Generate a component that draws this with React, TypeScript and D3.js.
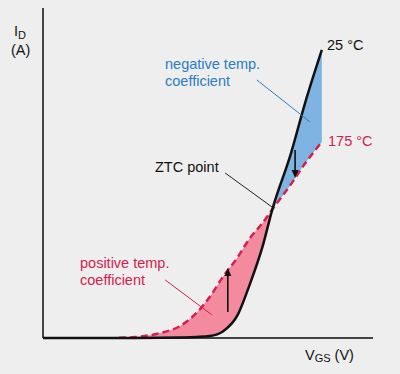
import React from 'react';
import * as d3 from 'd3';

// Gate-source voltage samples (V, arbitrary units) shared by both curves
const vgs = [0, 2.3, 2.8, 3.55, 4.15, 4.65, 5.05, 5.45, 5.9, 6.25, 6.65, 6.95, 7.5, 7.95, 8.45];
// Drain current at 25 °C
const id25 = [0, 0, 0, 0.005, 0.015, 0.03, 0.06, 0.2, 0.7, 1.58, 2.76, 3.9, 5.55, 7.15, 8.73];
// Drain current at 175 °C
const id175: (number | null)[] = [null, 0.006, 0.03, 0.15, 0.36, 0.76, 1.24, 1.85, 2.45, 3.0, 3.48, 3.9, 4.64, 5.3, 5.94];
const ztcIndex = 11;

// Annotation arrows (data coords)
const arrows = [
  { x: 7.64, from: 5.7, to: 4.85 },
  { x: 5.6, from: 0.79, to: 2.12 },
];
// Leader lines (data coords)
const leaders = [
  { x1: 6.48, y1: 7.82, x2: 8.09, y2: 6.55, color: '#2b7dc0' },
  { x1: 5.52, y1: 5.0, x2: 6.94, y2: 3.97, color: '#222' },
  { x1: 3.7, y1: 1.76, x2: 5.12, y2: 0.7, color: '#d4204e' },
];

const W = 400, H = 374;
const BLUE = '#2b7dc0', RED = '#d4204e';

export default function App() {
  const x = d3.scaleLinear().domain([0, 10]).range([43, 373]);
  const y = d3.scaleLinear().domain([0, 10]).range([338, 8]);
  const pts = vgs.map((v, i) => ({ v, a: id25[i], b: id175[i] }));

  const area = d3.area<any>()
    .defined(d => d.b != null)
    .x(d => x(d.v)).y0(d => y(d.a)).y1(d => y(d.b))
    .curve(d3.curveMonotoneX);
  const line25 = d3.line<any>().x(d => x(d.v)).y(d => y(d.a)).curve(d3.curveMonotoneX);
  const line175 = d3.line<any>().defined(d => d.b != null).x(d => x(d.v)).y(d => y(d.b)).curve(d3.curveMonotoneX);
  const xz = x(vgs[ztcIndex]);
  const fontFamily = 'Liberation Sans, Arial, sans-serif';

  return (
    <svg width={W} height={H} style={{ position: 'fixed', left: 0, top: 0 }} fontFamily={fontFamily}>
      <defs>
        <clipPath id="left"><rect x={0} y={0} width={xz} height={H} /></clipPath>
        <clipPath id="right"><rect x={xz} y={0} width={W - xz} height={H} /></clipPath>
      </defs>
      <rect x={0} y={0} width={W} height={H} fill="#eeeeee" />
      <path d={area(pts) || ''} fill="#f48a9d" clipPath="url(#left)" />
      <path d={area(pts) || ''} fill="#7fb3e1" clipPath="url(#right)" />
      {/* axes */}
      <line x1={x(0)} y1={y(10)} x2={x(0)} y2={y(0)} stroke="#444" strokeWidth={2} />
      <line x1={x(0)} y1={y(0)} x2={x(10)} y2={y(0)} stroke="#444" strokeWidth={2} />
      <path d={line175(pts) || ''} fill="none" stroke={RED} strokeWidth={2.5} strokeDasharray="7 4" />
      <path d={line25(pts) || ''} fill="none" stroke="#111" strokeWidth={2.5} />
      {leaders.map((l, i) => (
        <line key={i} x1={x(l.x1)} y1={y(l.y1)} x2={x(l.x2)} y2={y(l.y2)} stroke={l.color} strokeWidth={1} />
      ))}
      {arrows.map((a, i) => {
        const x0 = x(a.x), y0 = y(a.from), y1 = y(a.to);
        const dir = y1 > y0 ? 1 : -1;
        const hl = 8, hw = 3.5;
        return (
          <g key={i}>
            <line x1={x0} y1={y0} x2={x0} y2={y1 - dir * hl} stroke="#111" strokeWidth={1.6} />
            <path d={`M${x0},${y1} L${x0 - hw},${y1 - dir * hl} L${x0 + hw},${y1 - dir * hl} Z`} fill="#111" />
          </g>
        );
      })}
      {/* labels */}
      <text x={14} y={36} fontSize={14.5} fill="#111">I<tspan fontSize={11} dy={3}>D</tspan></text>
      <text x={11} y={55} fontSize={14.5} fill="#111">(A)</text>
      <text x={305} y={360} fontSize={14.5} fill="#111">V<tspan fontSize={11} dy={2}>GS</tspan><tspan dy={-2}> (V)</tspan></text>
      <text x={165} y={69} fontSize={14.5} fill={BLUE}>negative temp.</text>
      <text x={165} y={86} fontSize={14.5} fill={BLUE}>coefficient</text>
      <text x={327} y={50} fontSize={14.5} fill="#111">25 °C</text>
      <text x={328} y={146} fontSize={14.5} fill={RED}>175 °C</text>
      <text x={155} y={172} fontSize={14.5} fill="#111">ZTC point</text>
      <text x={80} y={268} fontSize={14.5} fill={RED}>positive temp.</text>
      <text x={80} y={285} fontSize={14.5} fill={RED}>coefficient</text>
    </svg>
  );
}
